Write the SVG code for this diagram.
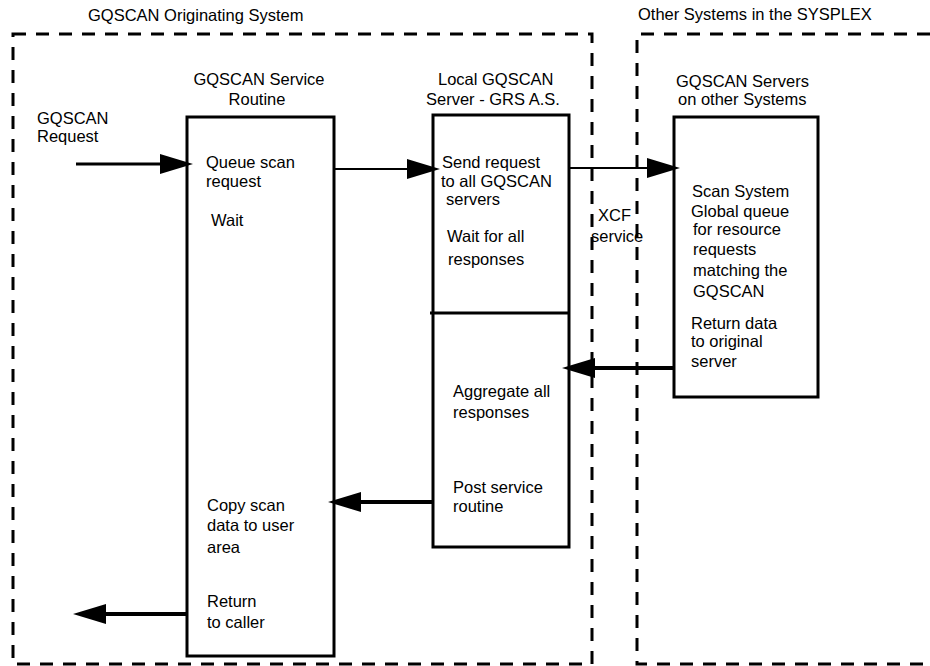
<svg xmlns="http://www.w3.org/2000/svg" width="930" height="666" viewBox="0 0 930 666">
<style>
text{font-family:"Liberation Sans",Arial,sans-serif;font-size:16.5px;fill:#000}
.dash{fill:none;stroke:#000;stroke-width:3;stroke-dasharray:13 10}
.box{fill:#fff;stroke:#000;stroke-width:3}
.thin{fill:none;stroke:#000;stroke-width:2}
.thick{fill:none;stroke:#000;stroke-width:4}
</style>
<defs>
<marker id="ah" markerUnits="userSpaceOnUse" markerWidth="34" markerHeight="20" refX="0" refY="10" orient="auto" viewBox="0 0 34 20">
<path d="M0,0 L33,10 L0,20 Z" fill="#000"/>
</marker>
</defs>
<rect fill="#fff" width="930" height="666"/>

<g id="originating-system">
<rect class="dash" x="13" y="34" width="579" height="630"/>
<text x="88" y="21">GQSCAN Originating System</text>
</g>
<g id="other-systems">
<path class="dash" d="M930,34 H637 V664 H930"/>
<text x="638" y="20">Other Systems in the SYSPLEX</text>
</g>

<g id="request-label">
<text x="37" y="124">GQSCAN</text>
<text x="37" y="142">Request</text>
</g>

<g id="service-routine">
<text x="259" y="85" text-anchor="middle">GQSCAN Service</text>
<text x="257" y="105" text-anchor="middle">Routine</text>
<rect class="box" x="187" y="117" width="147" height="539"/>
<text x="206" y="168">Queue scan</text>
<text x="206" y="187">request</text>
<text x="211" y="226">Wait</text>
<text x="207" y="511">Copy scan</text>
<text x="207" y="531">data to user</text>
<text x="207" y="553">area</text>
<text x="207" y="607">Return</text>
<text x="207" y="628">to caller</text>
</g>

<g id="local-server">
<text x="438" y="85">Local GQSCAN</text>
<text x="426" y="105">Server - GRS A.S.</text>
<rect class="box" x="433" y="115" width="136" height="432"/>
<line x1="430" y1="313" x2="569" y2="313" stroke="#000" stroke-width="3"/>
<text x="442" y="168">Send request</text>
<text x="441" y="187">to all GQSCAN</text>
<text x="446" y="205">servers</text>
<text x="447" y="242">Wait for all</text>
<text x="448" y="265">responses</text>
<text x="453" y="397">Aggregate all</text>
<text x="453" y="418">responses</text>
<text x="453" y="493">Post service</text>
<text x="453" y="512">routine</text>
</g>

<g id="xcf-label">
<text x="598" y="221">XCF</text>
<text x="591" y="242">service</text>
</g>

<g id="remote-servers">
<text x="676" y="87">GQSCAN Servers</text>
<text x="678" y="105">on other Systems</text>
<rect class="box" x="674" y="117" width="144" height="280"/>
<text x="692" y="197">Scan System</text>
<text x="691" y="217">Global queue</text>
<text x="693" y="235">for resource</text>
<text x="693" y="255">requests</text>
<text x="693" y="276">matching the</text>
<text x="693" y="297">GQSCAN</text>
<text x="691" y="329">Return data</text>
<text x="691" y="347">to original</text>
<text x="691" y="367">server</text>
</g>

<g id="connectors">
<path id="c-request" d="M76,164 H160" stroke="#000" stroke-width="3" marker-end="url(#ah)"/>
<path id="c-send" class="thin" d="M334,169 H407" marker-end="url(#ah)"/>
<path id="c-xcf" class="thin" d="M569,168 H647" marker-end="url(#ah)"/>
<path id="c-return-data" class="thick" d="M674,368 H595" marker-end="url(#ah)"/>
<path id="c-post" class="thick" d="M433,502 H361" marker-end="url(#ah)"/>
<path id="c-return" class="thick" d="M187,614 H106" marker-end="url(#ah)"/>
</g>
</svg>
